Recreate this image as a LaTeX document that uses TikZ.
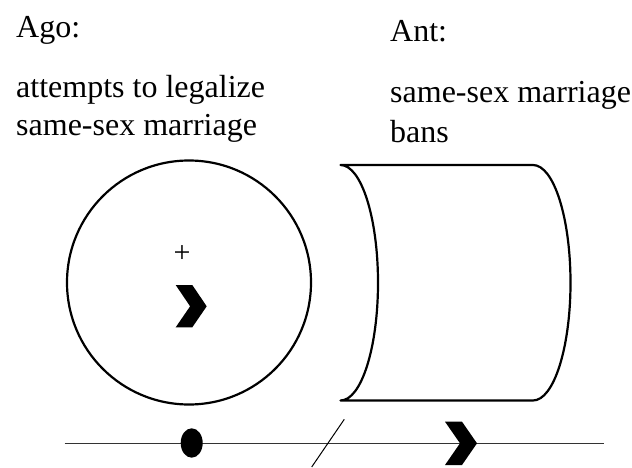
\documentclass[tikz,border=0pt]{standalone}
\usepackage{fontspec}
\setmainfont{Liberation Serif}
\usetikzlibrary{shapes.geometric}
\begin{document}
\begin{tikzpicture}[x=1pt,y=1pt,
  lbl/.style={anchor=base west,inner sep=0pt,font=\fontsize{32}{37}\selectfont},
  outline/.style={draw=black,line width=2.2pt},
  chev/.style={fill=black,draw=none}]
\useasboundingbox (0,0) rectangle (632,467);
% labels
\node[lbl] (ago) at (16,429) {Ago:};
\node[lbl] (ant) at (390,425) {Ant:};
\node[lbl] (agotxt1) at (16,369) {attempts to legalize};
\node[lbl] (agotxt2) at (16,332) {same-sex marriage};
\node[lbl] (anttxt1) at (390,364) {same-sex marriage};
\node[lbl] (anttxt2) at (390,324) {bans};
% circle
\node[circle,outline,minimum size=244pt,inner sep=0pt] (sit) at (189,184.5) {};
\node[inner sep=0pt,font=\fontsize{30}{30}\selectfont] (plus) at (182,213) {+};
\fill[chev] (175.7,182) -- (192.3,182) -- (206.7,160.7) -- (192.3,139.7) -- (175.7,139.7) -- (190.1,160.7) -- cycle;
% cylinder
\draw[outline,line join=round] (340.5,302) -- (533,302)
  arc[start angle=90,end angle=-90,x radius=37.5pt,y radius=117.75pt]
  -- (340.5,66.5)
  arc[start angle=-90,end angle=90,x radius=37.5pt,y radius=117.75pt] -- cycle;
% timeline
\coordinate (tl0) at (64.5,23.7);
\coordinate (tl1) at (603.6,23.7);
\draw[line width=1.3pt,black!80] (tl0) -- (tl1);
\fill (191.7,24) ellipse [x radius=11pt,y radius=14.7pt];
\coordinate (s0) at (344.3,47.7);
\coordinate (s1) at (311.7,0);
\draw[line width=1pt] (s0) -- (s1);
\fill[chev] (445,45.3) -- (462,45.3) -- (477,23.7) -- (462,2) -- (445,2) -- (460,23.7) -- cycle;
\end{tikzpicture}
\end{document}
